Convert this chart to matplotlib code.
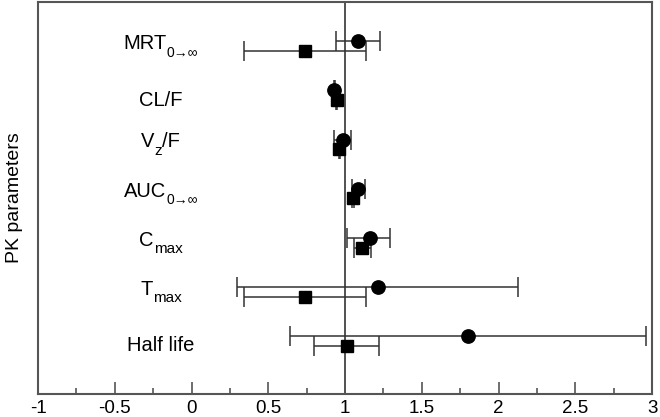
import matplotlib
matplotlib.use("Agg")
import matplotlib.pyplot as plt
from matplotlib.ticker import MultipleLocator
from matplotlib.transforms import offset_copy

# label parts: main text, subscript, trailing text
label_main = ["MRT", "CL/F", "V", "AUC", "C", "T", "Half life"]
label_sub = ["0\u2192\u221e", "", "z", "0\u2192\u221e", "max", "max", ""]
label_rest = ["", "", "/F", "", "", "", ""]

circle_val = [1.085, 0.93, 0.987, 1.085, 1.16, 1.215, 1.80]
circle_lo = [0.94, 0.925, 0.93, 1.046, 1.01, 0.296, 0.64]
circle_hi = [1.23, 0.935, 1.04, 1.128, 1.295, 2.125, 2.96]
square_val = [0.74, 0.945, 0.963, 1.054, 1.113, 0.74, 1.013]
square_lo = [0.34, 0.94, 0.958, 1.048, 1.057, 0.34, 0.80]
square_hi = [1.135, 0.95, 0.968, 1.06, 1.17, 1.135, 1.22]

xticks = [-1, -0.5, 0, 0.5, 1, 1.5, 2, 2.5, 3]
xticklabels = ['-1', '-0.5', '0', '0.5', '1', '1.5', '2', '2.5', '3']

plt.rcParams['font.family'] = ['Liberation Sans', 'DejaVu Sans']

fig = plt.figure(figsize=(6.6, 4.17), dpi=100)
ax = fig.add_axes([0.0576, 0.0552, 0.9304, 0.9400])

n = len(label_main)
ypos = [n - i for i in range(n)]
off = 0.1
lc = '#333333'

yc = [y + off for y in ypos]
ys = [y - off for y in ypos]
ax.errorbar(circle_val, yc,
            xerr=[[v - l for v, l in zip(circle_val, circle_lo)], [h - v for v, h in zip(circle_val, circle_hi)]],
            fmt='o', color='black', ecolor=lc, elinewidth=1.1, capsize=7, capthick=1.1,
            markersize=9.6, zorder=3)
ax.errorbar(square_val, ys,
            xerr=[[v - l for v, l in zip(square_val, square_lo)], [h - v for v, h in zip(square_val, square_hi)]],
            fmt='s', color='black', ecolor=lc, elinewidth=1.1, capsize=7, capthick=1.1,
            markersize=8.2, zorder=3)

ax.axvline(1, color=lc, linewidth=1.2, zorder=1)

ax.set_xlim(-1, 3)
ax.set_ylim(-0.08, 7.9)

# parameter labels with manually composed subscripts
renderer = fig.canvas.get_renderer()
main_fs, sub_fs = 14.5, 11
label_cx = -0.2
for y, m, s, r in zip(ypos, label_main, label_sub, label_rest):
    sfs = 10 if s.startswith("0") else sub_fs
    parts = [(m, main_fs, 0), (s, sfs, -7.5), (r, main_fs, 0)]
    parts = [p for p in parts if p[0]]
    widths = []
    for txt, fs, _ in parts:
        t = ax.text(0, 0, txt, fontsize=fs)
        widths.append(t.get_window_extent(renderer).width)
        t.remove()
    total = sum(widths)
    base = -10.5 if not s else -3.0
    x0 = -total / 2.0
    for (txt, fs, dy), w in zip(parts, widths):
        tr = offset_copy(ax.transData, fig=fig, x=x0, y=base + dy, units='dots')
        ax.text(label_cx, y, txt, fontsize=fs, ha='left', va='baseline', transform=tr)
        x0 += w

ax.xaxis.set_minor_locator(MultipleLocator(0.25))
ax.set_xticks(xticks)
ax.set_xticklabels(xticklabels)
ax.tick_params(axis='x', which='major', direction='in', length=8.4, width=1.2, color='#555555',
               labelsize=13.5, pad=4)
ax.tick_params(axis='x', which='minor', direction='in', length=4.3, width=1.2, color='#555555')
ax.set_yticks([])
for sp in ax.spines.values():
    sp.set_color('#555555')
    sp.set_linewidth(1.5)

ax.set_ylabel('PK parameters', fontsize=14, labelpad=11)

fig.savefig('out.png', dpi=100)
